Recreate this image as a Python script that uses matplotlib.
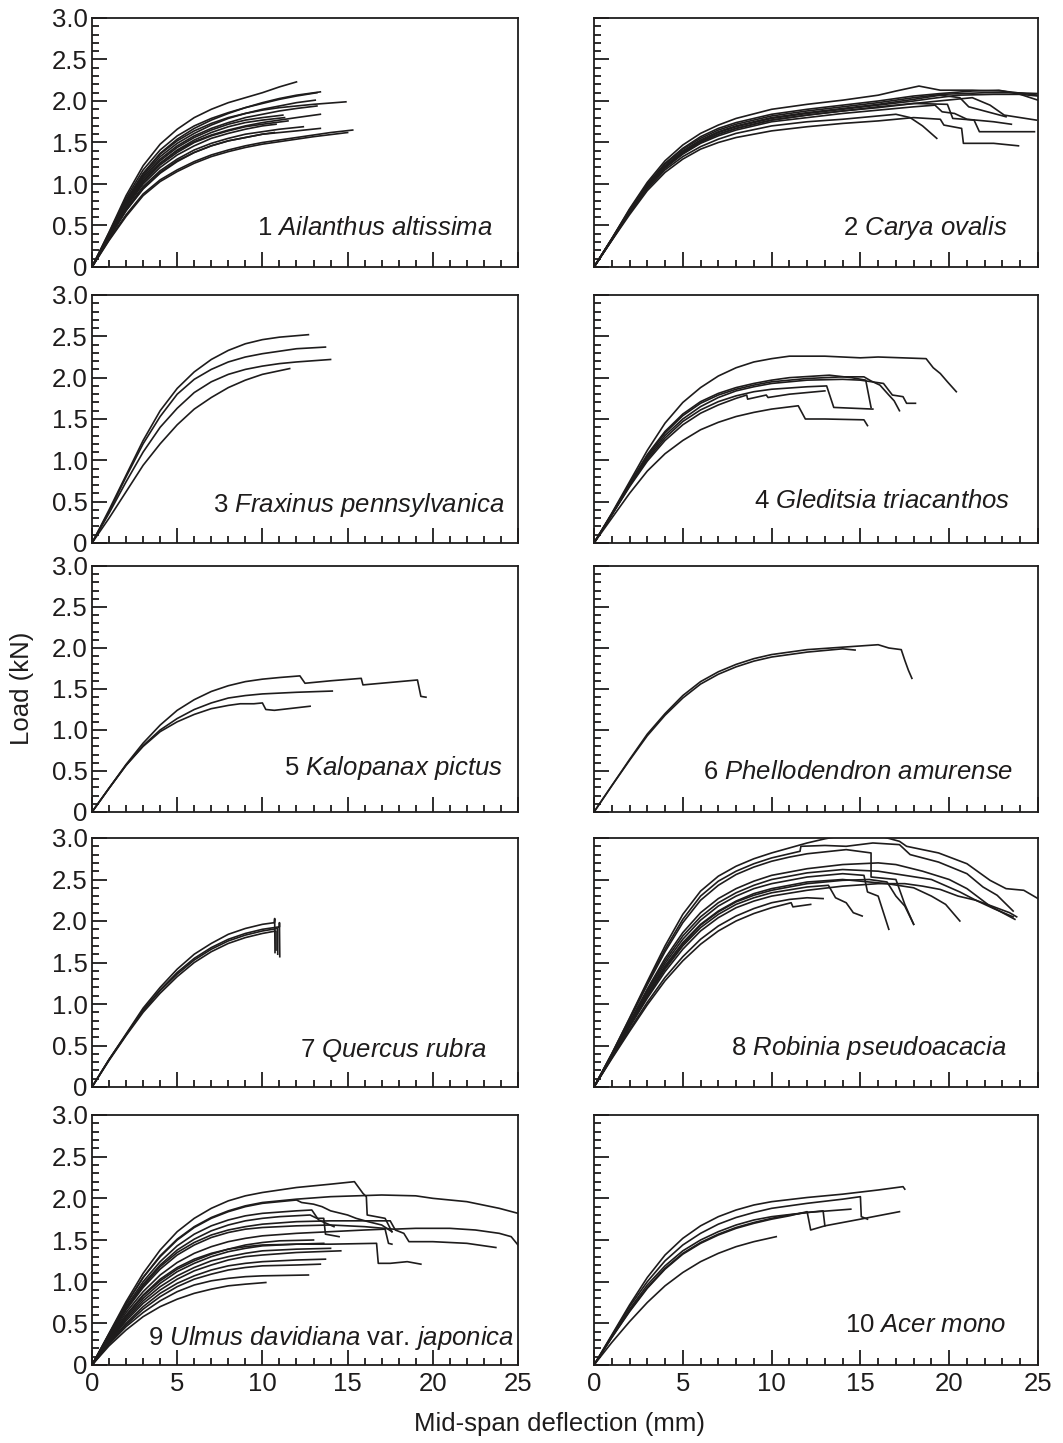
import matplotlib
matplotlib.use("Agg")
import matplotlib.pyplot as plt
from matplotlib.ticker import MultipleLocator, FuncFormatter

plt.rcParams['font.family'] = ['Liberation Sans', 'DejaVu Sans']
plt.rcParams['mathtext.fontset'] = 'custom'
plt.rcParams['mathtext.rm'] = 'Liberation Sans'
plt.rcParams['mathtext.it'] = 'Liberation Sans:italic'

INK = "#1e1c1c"

# load-deflection curves, (deflection mm, load kN)
ailanthus = [
    [(0,0),(1,0.42),(2,0.86),(3,1.22),(4,1.48),(5,1.66),(6,1.8),(7,1.9),(8,1.98),(9,2.04),(10,2.1),(11,2.17),(12,2.23)],
    [(0,0),(1,0.41),(2,0.83),(3,1.17),(4,1.41),(5,1.58),(6,1.7),(7,1.79),(8,1.86),(9,1.92),(10,1.97),(11,2.02),(12,2.06),(13.2,2.1)],
    [(0,0),(1,0.4),(2,0.8),(3,1.13),(4,1.37),(5,1.54),(6,1.67),(7,1.77),(8,1.85),(9,1.92),(10,1.98),(11,2.03),(12,2.07),(13.4,2.11)],
    [(0,0),(1,0.4),(2,0.8),(3,1.12),(4,1.36),(5,1.52),(6,1.64),(7,1.73),(8,1.8),(9,1.85),(10,1.89),(11,1.92),(12,1.94),(13,1.96),(14.9,1.99)],
    [(0,0),(1,0.39),(2,0.78),(3,1.1),(4,1.33),(5,1.49),(6,1.61),(7,1.71),(8,1.79),(9,1.85),(10,1.9),(11,1.94),(12,1.98),(13.1,2.01)],
    [(0,0),(1,0.39),(2,0.77),(3,1.08),(4,1.3),(5,1.46),(6,1.58),(7,1.67),(8,1.74),(9,1.8),(10,1.84),(11,1.88),(12,1.91),(13.2,1.94)],
    [(0,0),(1,0.38),(2,0.75),(3,1.04),(4,1.25),(5,1.4),(6,1.51),(7,1.59),(8,1.65),(9,1.7),(10,1.74),(11,1.77),(12,1.8),(13.4,1.84)],
    [(0,0),(1,0.38),(2,0.76),(3,1.06),(4,1.28),(5,1.44),(6,1.56),(7,1.65),(8,1.72),(9,1.77),(10,1.8),(11.2,1.83)],
    [(0,0),(1,0.37),(2,0.73),(3,1.02),(4,1.23),(5,1.38),(6,1.5),(7,1.58),(8,1.64),(9,1.69),(10,1.72),(11.5,1.76)],
    [(0,0),(1,0.37),(2,0.72),(3,1.0),(4,1.2),(5,1.35),(6,1.46),(7,1.55),(8,1.61),(9,1.66),(10,1.7),(10.8,1.72)],
    [(0,0),(1,0.36),(2,0.7),(3,0.97),(4,1.16),(5,1.3),(6,1.41),(7,1.49),(8,1.55),(9,1.6),(10,1.63),(11,1.66),(12.4,1.69)],
    [(0,0),(1,0.35),(2,0.68),(3,0.94),(4,1.13),(5,1.27),(6,1.38),(7,1.46),(8,1.52),(9,1.56),(10,1.6),(11,1.62),(12,1.64),(13.4,1.67)],
    [(0,0),(1,0.35),(2,0.68),(3,0.95),(4,1.14),(5,1.28),(6,1.38),(7,1.46),(8,1.52),(9,1.56),(10,1.6),(10.7,1.62)],
    [(0,0),(1,0.37),(2,0.74),(3,1.03),(4,1.25),(5,1.41),(6,1.53),(7,1.62),(8,1.69),(9,1.74),(10,1.77),(11.3,1.8)],
    [(0,0),(1,0.33),(2,0.63),(3,0.88),(4,1.05),(5,1.17),(6,1.27),(7,1.35),(8,1.41),(9,1.46),(10,1.5),(11,1.53),(12,1.56),(13,1.59),(14,1.62),(15.3,1.65)],
    [(0,0),(1,0.32),(2,0.61),(3,0.86),(4,1.03),(5,1.15),(6,1.25),(7,1.33),(8,1.39),(9,1.44),(10,1.48),(11,1.51),(12,1.54),(13,1.57),(15,1.62)],
]

carya = [
    [(0,0),(1,0.34),(2,0.7),(3,1.02),(4,1.28),(5,1.47),(6,1.61),(7,1.71),(8,1.79),(10,1.9),(12,1.96),(14,2.01),(16,2.07),(17,2.12),(18.3,2.18),(19.5,2.13),(21.3,2.13),(23,2.12),(25,2.07)],
    [(0,0),(1,0.34),(2,0.69),(3,1.0),(4,1.25),(5,1.43),(6,1.57),(7,1.67),(8,1.74),(10,1.84),(12,1.9),(14,1.95),(16,2.0),(18,2.06),(19.5,2.09),(21.3,2.12),(22.8,2.13),(24,2.08),(25,2.01)],
    [(0,0),(1,0.33),(2,0.67),(3,0.98),(4,1.22),(5,1.4),(6,1.53),(7,1.63),(8,1.7),(10,1.8),(12,1.86),(14,1.91),(16,1.96),(18,2.02),(19.5,2.07),(20.6,2.04),(21.1,1.93),(22.5,1.85),(23.2,1.81)],
    [(0,0),(1,0.33),(2,0.67),(3,0.97),(4,1.21),(5,1.38),(6,1.51),(7,1.6),(8,1.67),(10,1.77),(12,1.83),(14,1.88),(16,1.93),(18,1.97),(19.9,1.96),(20.2,1.79),(21.4,1.77),(21.7,1.63),(24.8,1.63)],
    [(0,0),(1,0.33),(2,0.66),(3,0.96),(4,1.19),(5,1.36),(6,1.49),(7,1.58),(8,1.65),(10,1.75),(12,1.8),(14,1.85),(16,1.89),(18,1.93),(19.2,1.95),(19.6,1.87),(20.3,1.85),(21,1.78),(22.5,1.75),(23.5,1.72)],
    [(0,0),(1,0.32),(2,0.65),(3,0.94),(4,1.17),(5,1.33),(6,1.45),(7,1.54),(8,1.61),(10,1.7),(12,1.75),(14,1.78),(16,1.82),(17,1.84),(17.8,1.8),(18.5,1.7),(19.3,1.55)],
    [(0,0),(1,0.32),(2,0.63),(3,0.92),(4,1.14),(5,1.3),(6,1.42),(7,1.5),(8,1.56),(10,1.64),(12,1.69),(14,1.73),(16,1.76),(18,1.8),(19.5,1.78),(19.7,1.71),(20.7,1.67),(20.8,1.49),(22.5,1.49),(23.9,1.46)],
    [(0,0),(1,0.33),(2,0.66),(3,0.97),(4,1.2),(5,1.37),(6,1.5),(7,1.6),(8,1.67),(10,1.77),(12,1.83),(14,1.88),(16,1.92),(18,1.97),(19.4,2.0),(21.3,2.04),(22.3,1.95),(23.1,1.83),(24.9,1.77)],
    [(0,0),(1,0.34),(2,0.68),(3,0.99),(4,1.24),(5,1.42),(6,1.55),(7,1.65),(8,1.72),(10,1.82),(12,1.88),(14,1.93),(16,1.98),(18,2.04),(19.6,2.08),(22,2.1),(23.6,2.1),(25,2.09)],
    [(0,0),(1,0.33),(2,0.66),(3,0.97),(4,1.21),(5,1.39),(6,1.52),(7,1.62),(8,1.69),(10,1.79),(12,1.85),(14,1.9),(16,1.95),(18,2.0),(19,2.03),(20.5,2.07),(22.5,2.08),(24,2.08),(25,2.06)],
]

fraxinus = [
    [(0,0),(1,0.4),(2,0.82),(3,1.24),(4,1.6),(5,1.87),(6,2.07),(7,2.22),(8,2.33),(9,2.41),(10,2.46),(11,2.49),(12.7,2.52)],
    [(0,0),(1,0.38),(2,0.8),(3,1.2),(4,1.53),(5,1.8),(6,1.98),(7,2.1),(8,2.19),(9,2.25),(10,2.29),(11,2.32),(12,2.35),(13.7,2.37)],
    [(0,0),(1,0.36),(2,0.74),(3,1.1),(4,1.4),(5,1.63),(6,1.82),(7,1.95),(8,2.04),(9,2.1),(10,2.14),(11,2.17),(12,2.19),(14,2.22)],
    [(0,0),(1,0.3),(2,0.62),(3,0.94),(4,1.2),(5,1.43),(6,1.62),(7,1.76),(8,1.88),(9,1.97),(10,2.04),(11.6,2.11)],
]

gleditsia = [
    [(0,0),(1,0.36),(2,0.74),(3,1.12),(4,1.45),(5,1.7),(6,1.88),(7,2.02),(8,2.12),(9,2.19),(10,2.23),(11,2.26),(13,2.26),(15,2.24),(16,2.25),(18.7,2.23),(19.1,2.12),(19.5,2.05),(19.9,1.95),(20.4,1.83)],
    [(0,0),(1,0.35),(2,0.72),(3,1.07),(4,1.35),(5,1.56),(6,1.71),(7,1.81),(8,1.88),(9,1.93),(10,1.97),(11,2.0),(13.25,2.03),(14.5,2.0),(15.3,1.97),(15.6,1.64)],
    [(0,0),(1,0.35),(2,0.71),(3,1.05),(4,1.33),(5,1.54),(6,1.69),(7,1.79),(8,1.86),(9,1.91),(10,1.95),(12,1.99),(14,2.01),(15.2,2.01),(15.6,1.96),(16.1,1.91),(16.6,1.79),(16.9,1.72),(17.2,1.6)],
    [(0,0),(1,0.34),(2,0.7),(3,1.03),(4,1.3),(5,1.5),(6,1.65),(7,1.76),(8,1.84),(9,1.89),(10,1.93),(12,1.97),(14,1.98),(15,1.97),(16.3,1.93),(16.8,1.79),(17.4,1.77),(17.6,1.69),(18.1,1.69)],
    [(0,0),(1,0.34),(2,0.69),(3,1.01),(4,1.27),(5,1.47),(6,1.61),(7,1.71),(8,1.78),(9,1.83),(10,1.86),(12,1.89),(13.1,1.9),(13.5,1.64),(15.7,1.62)],
    [(0,0),(1,0.34),(2,0.68),(3,0.99),(4,1.24),(5,1.43),(6,1.57),(7,1.67),(8,1.75),(8.6,1.79),(8.65,1.74),(9.7,1.79),(9.8,1.76),(11,1.8),(12,1.82),(13,1.84)],
    [(0,0),(1,0.3),(2,0.6),(3,0.87),(4,1.08),(5,1.24),(6,1.37),(7,1.46),(8,1.53),(9,1.58),(10,1.62),(11.5,1.66),(11.9,1.5),(13,1.5),(15.2,1.49),(15.4,1.42)],
]

kalopanax = [
    [(0,0),(1,0.29),(2,0.58),(3,0.84),(4,1.06),(5,1.24),(6,1.37),(7,1.47),(8,1.54),(9,1.59),(10,1.62),(11,1.64),(12.2,1.66),(12.5,1.57),(14,1.6),(15.8,1.63),(15.9,1.55),(17.5,1.58),(19.1,1.61),(19.3,1.41),(19.6,1.4)],
    [(0,0),(1,0.29),(2,0.57),(3,0.81),(4,1.0),(5,1.14),(6,1.25),(7,1.33),(8,1.39),(9,1.42),(10,1.44),(12,1.46),(14.1,1.475)],
    [(0,0),(1,0.29),(2,0.57),(3,0.8),(4,0.98),(5,1.1),(6,1.19),(7,1.26),(8,1.3),(8.7,1.32),(9.5,1.32),(10,1.33),(10.2,1.25),(10.7,1.24),(12.8,1.29)],
]

phellodendron = [
    [(0,0),(1,0.32),(2,0.64),(3,0.95),(4,1.2),(5,1.42),(6,1.59),(7,1.71),(8,1.8),(9,1.87),(10,1.92),(12,1.98),(14,2.01),(16,2.04),(16.6,2.0),(17.3,1.98),(17.5,1.85),(17.7,1.73),(17.9,1.63)],
    [(0,0),(1,0.32),(2,0.63),(3,0.93),(4,1.18),(5,1.39),(6,1.56),(7,1.68),(8,1.77),(9,1.84),(10,1.89),(12,1.95),(14,1.99),(14.7,1.975)],
]

quercus = [
    [(0,0),(1,0.33),(2,0.64),(3,0.95),(4,1.2),(5,1.42),(6,1.6),(7,1.73),(8,1.84),(9,1.91),(10,1.96),(10.7,1.98),(10.72,2.03),(10.74,1.62)],
    [(0,0),(1,0.33),(2,0.63),(3,0.93),(4,1.17),(5,1.38),(6,1.55),(7,1.68),(8,1.78),(9,1.85),(10,1.9),(11.0,1.93),(11.0,1.98),(11.02,1.57)],
    [(0,0),(1,0.33),(2,0.63),(3,0.92),(4,1.16),(5,1.36),(6,1.53),(7,1.66),(8,1.76),(9,1.83),(10,1.88),(10.9,1.91),(10.9,1.6)],
    [(0,0),(1,0.32),(2,0.62),(3,0.9),(4,1.13),(5,1.33),(6,1.5),(7,1.63),(8,1.73),(9,1.8),(10,1.85),(10.8,1.88),(10.8,1.65)],
]

robinia = [
    [(0,0),(1,0.4),(2,0.83),(3,1.27),(4,1.7),(5,2.08),(6,2.36),(7,2.54),(8,2.66),(9,2.75),(10,2.82),(11,2.88),(12,2.94),(13,2.99),(14,3.03),(16,3.03),(17.2,2.96),(17.6,2.9),(19.4,2.82),(21,2.69),(22.3,2.49),(23.2,2.39),(24.2,2.37),(25,2.27)],
    [(0,0),(1,0.4),(2,0.82),(3,1.25),(4,1.66),(5,2.02),(6,2.3),(7,2.48),(8,2.6),(9,2.69),(10,2.76),(11.6,2.84),(11.65,2.9),(13,2.91),(14.2,2.9),(15.7,2.94),(17.2,2.92),(17.8,2.8),(19.4,2.71),(21,2.57),(21.9,2.41),(22.7,2.31),(23.6,2.12)],
    [(0,0),(1,0.39),(2,0.81),(3,1.23),(4,1.63),(5,1.98),(6,2.25),(7,2.43),(8,2.56),(9,2.65),(10,2.72),(11,2.77),(12,2.81),(14.2,2.86),(15.6,2.82),(15.6,2.53),(17,2.5),(17.5,2.2),(18,1.96)],
    [(0,0),(1,0.38),(2,0.78),(3,1.18),(4,1.55),(5,1.86),(6,2.1),(7,2.27),(8,2.39),(9,2.48),(10,2.55),(12,2.63),(14,2.68),(16,2.7),(17,2.68),(18.5,2.6),(20,2.5),(21,2.39),(22.3,2.18),(23.7,2.02)],
    [(0,0),(1,0.38),(2,0.77),(3,1.16),(4,1.52),(5,1.82),(6,2.05),(7,2.22),(8,2.34),(9,2.43),(10,2.5),(12,2.58),(14,2.62),(16,2.6),(17.5,2.55),(19,2.5),(20.6,2.35),(21.5,2.25),(22.5,2.15),(23.6,2.05)],
    [(0,0),(1,0.37),(2,0.76),(3,1.14),(4,1.49),(5,1.78),(6,2.01),(7,2.18),(8,2.3),(9,2.39),(10,2.45),(12,2.53),(14,2.57),(15.2,2.55),(15.4,2.35),(16.0,2.3),(16.3,2.1),(16.6,1.9)],
    [(0,0),(1,0.37),(2,0.75),(3,1.12),(4,1.46),(5,1.74),(6,1.96),(7,2.12),(8,2.24),(9,2.33),(10,2.39),(12,2.47),(14,2.5),(15,2.48),(16.5,2.45),(18,2.4),(19,2.3),(19.8,2.2),(20.6,2.0)],
    [(0,0),(1,0.36),(2,0.73),(3,1.09),(4,1.42),(5,1.7),(6,1.92),(7,2.08),(8,2.2),(9,2.28),(10,2.34),(12,2.41),(13.2,2.43),(13.6,2.28),(14.2,2.22),(14.6,2.1),(15.1,2.06)],
    [(0,0),(1,0.36),(2,0.72),(3,1.07),(4,1.39),(5,1.66),(6,1.88),(7,2.04),(8,2.16),(9,2.24),(10,2.3),(12,2.37),(14,2.42),(16,2.45),(17.5,2.45),(18.5,2.42),(19.5,2.38),(20.5,2.3),(21.5,2.25),(22.4,2.18),(23.4,2.1),(23.8,2.05)],
    [(0,0),(1,0.36),(2,0.74),(3,1.1),(4,1.44),(5,1.72),(6,1.95),(7,2.11),(8,2.23),(9,2.31),(10,2.37),(12,2.45),(14,2.49),(15.5,2.5),(16.5,2.47),(17,2.3),(17.5,2.18),(18,1.96)],
    [(0,0),(1,0.35),(2,0.69),(3,1.02),(4,1.32),(5,1.57),(6,1.78),(7,1.94),(8,2.06),(9,2.15),(10,2.22),(11,2.26),(12,2.28),(12.9,2.27)],
    [(0,0),(1,0.34),(2,0.67),(3,0.99),(4,1.28),(5,1.52),(6,1.72),(7,1.88),(8,2.0),(9,2.09),(10,2.16),(11.1,2.22),(11.2,2.17),(12.2,2.2)],
]

ulmus = [
    [(0,0),(1,0.38),(2,0.76),(3,1.1),(4,1.38),(5,1.6),(6,1.76),(7,1.88),(8,1.97),(9,2.03),(10,2.07),(12,2.13),(14,2.17),(15.4,2.2),(15.9,2.06),(16.1,2.02),(16.15,1.8),(17.2,1.76),(17.4,1.68),(17.6,1.6)],
    [(0,0),(1,0.37),(2,0.73),(3,1.05),(4,1.31),(5,1.51),(6,1.66),(7,1.77),(8,1.85),(9,1.91),(10,1.95),(12,1.99),(14,2.02),(17,2.04),(19,2.03),(20,2.0),(22,1.96),(23.9,1.88),(25,1.82)],
    [(0,0),(1,0.37),(2,0.73),(3,1.05),(4,1.3),(5,1.5),(6,1.65),(7,1.76),(8,1.84),(9,1.9),(10,1.94),(11,1.96),(12,1.98),(12.3,1.95),(13,1.93),(13.5,1.9),(14,1.85),(15,1.8),(15.5,1.76),(16.2,1.72),(17,1.68),(17.6,1.6)],
    [(0,0),(1,0.35),(2,0.68),(3,0.97),(4,1.2),(5,1.38),(6,1.51),(7,1.61),(8,1.68),(9,1.73),(10,1.76),(11,1.78),(12.8,1.8),(13.2,1.76),(13.6,1.76),(13.7,1.57),(14.5,1.54)],
    [(0,0),(1,0.35),(2,0.67),(3,0.95),(4,1.18),(5,1.35),(6,1.47),(7,1.56),(8,1.62),(9,1.66),(10,1.69),(12,1.72),(14,1.73),(16,1.73),(17.5,1.73),(17.8,1.62),(18.3,1.58),(18.6,1.48),(20,1.48),(22,1.46),(23.7,1.41)],
    [(0,0),(1,0.34),(2,0.66),(3,0.93),(4,1.15),(5,1.32),(6,1.44),(7,1.53),(8,1.59),(9,1.63),(10,1.65),(12,1.67),(14,1.68),(16,1.66),(17.7,1.63),(19,1.64),(21,1.64),(22.5,1.62),(23.9,1.58),(24.6,1.54),(25,1.44)],
    [(0,0),(1,0.36),(2,0.7),(3,1.0),(4,1.24),(5,1.43),(6,1.57),(7,1.67),(8,1.74),(9,1.79),(10,1.82),(12,1.85),(12.9,1.86),(13.3,1.74),(14.2,1.66)],
    [(0,0),(1,0.33),(2,0.63),(3,0.88),(4,1.08),(5,1.23),(6,1.34),(7,1.42),(8,1.48),(9,1.52),(10,1.55),(12,1.58),(14,1.6),(16,1.62),(17.2,1.63),(17.4,1.46),(17.6,1.45)],
    [(0,0),(1,0.32),(2,0.6),(3,0.84),(4,1.03),(5,1.17),(6,1.27),(7,1.34),(8,1.39),(9,1.42),(10,1.44),(12,1.45),(14,1.45),(16.7,1.46),(16.8,1.22),(17.5,1.22),(18.5,1.24),(19.3,1.21)],
    [(0,0),(1,0.31),(2,0.59),(3,0.83),(4,1.01),(5,1.15),(6,1.25),(7,1.33),(8,1.39),(9,1.44),(10,1.47),(11,1.49),(13,1.5)],
    [(0,0),(1,0.3),(2,0.57),(3,0.8),(4,0.98),(5,1.12),(6,1.22),(7,1.3),(8,1.36),(9,1.4),(10,1.43),(12,1.45),(13.6,1.46)],
    [(0,0),(1,0.29),(2,0.55),(3,0.77),(4,0.94),(5,1.07),(6,1.17),(7,1.25),(8,1.3),(9,1.34),(10,1.37),(12,1.39),(14,1.4)],
    [(0,0),(1,0.28),(2,0.53),(3,0.74),(4,0.9),(5,1.03),(6,1.13),(7,1.2),(8,1.26),(9,1.3),(10,1.32),(12,1.35),(14.6,1.37)],
    [(0,0),(1,0.27),(2,0.5),(3,0.7),(4,0.86),(5,0.98),(6,1.07),(7,1.14),(8,1.19),(9,1.22),(10,1.24),(12,1.26),(13.7,1.27)],
    [(0,0),(1,0.26),(2,0.48),(3,0.67),(4,0.82),(5,0.94),(6,1.03),(7,1.09),(8,1.14),(9,1.17),(10,1.19),(12,1.2),(13.4,1.21)],
    [(0,0),(1,0.25),(2,0.46),(3,0.63),(4,0.77),(5,0.88),(6,0.96),(7,1.01),(8,1.04),(9,1.06),(10,1.07),(12.7,1.08)],
    [(0,0),(1,0.23),(2,0.42),(3,0.58),(4,0.7),(5,0.79),(6,0.86),(7,0.91),(8,0.95),(9,0.97),(10.2,0.99)],
]

acer = [
    [(0,0),(1,0.36),(2,0.72),(3,1.05),(4,1.32),(5,1.52),(6,1.67),(7,1.78),(8,1.86),(9,1.92),(10,1.96),(12,2.01),(14,2.05),(16,2.1),(17.4,2.14),(17.5,2.11)],
    [(0,0),(1,0.35),(2,0.7),(3,1.0),(4,1.25),(5,1.44),(6,1.58),(7,1.69),(8,1.77),(9,1.83),(10,1.88),(12,1.94),(14,1.99),(15.0,2.02),(15.05,1.78),(15.4,1.75)],
    [(0,0),(1,0.34),(2,0.67),(3,0.96),(4,1.19),(5,1.37),(6,1.5),(7,1.6),(8,1.68),(9,1.74),(10,1.78),(12,1.83),(14.46,1.87)],
    [(0,0),(1,0.33),(2,0.65),(3,0.93),(4,1.16),(5,1.34),(6,1.47),(7,1.57),(8,1.65),(9,1.71),(10,1.76),(11,1.8),(12,1.83),(12.9,1.85),(13.0,1.67)],
    [(0,0),(1,0.33),(2,0.64),(3,0.92),(4,1.15),(5,1.33),(6,1.46),(7,1.56),(8,1.64),(9,1.7),(10,1.75),(11,1.79),(12,1.84),(12.2,1.62),(13.0,1.67),(15,1.75),(17.2,1.84)],
    [(0,0),(1,0.27),(2,0.52),(3,0.75),(4,0.95),(5,1.11),(6,1.24),(7,1.34),(8,1.42),(9,1.48),(10.26,1.54)],
]

species = [
    r"1 $\mathit{Ailanthus\ altissima}$",
    r"2 $\mathit{Carya\ ovalis}$",
    r"3 $\mathit{Fraxinus\ pennsylvanica}$",
    r"4 $\mathit{Gleditsia\ triacanthos}$",
    r"5 $\mathit{Kalopanax\ pictus}$",
    r"6 $\mathit{Phellodendron\ amurense}$",
    r"7 $\mathit{Quercus\ rubra}$",
    r"8 $\mathit{Robinia\ pseudoacacia}$",
    r"9 $\mathit{Ulmus\ davidiana}$ var. $\mathit{japonica}$",
    r"10 $\mathit{Acer\ mono}$",
]
panels = [ailanthus, carya, fraxinus, gleditsia, kalopanax,
          phellodendron, quercus, robinia, ulmus, acer]

# layout in pixels
W, H = 1063, 1443
col_x = [(92, 518), (594, 1038)]
row_y = [(18, 267), (295, 543), (566, 812), (838, 1087), (1115, 1365)]
label_xy = [(0.941, 0.129), (0.932, 0.129), (0.969, 0.125), (0.937, 0.14),
            (0.965, 0.15), (0.944, 0.135), (0.927, 0.12), (0.93, 0.129),
            (0.99, 0.08), (0.93, 0.133)]

FS = 18.5

fig = plt.figure(figsize=(W / 100, H / 100), dpi=100)

for i, curves in enumerate(panels):
    r, c = divmod(i, 2)
    x0, x1 = col_x[c]
    y0, y1 = row_y[r]
    ax = fig.add_axes([x0 / W, 1 - y1 / H, (x1 - x0) / W, (y1 - y0) / H])
    for crv in curves:
        xs = [p[0] for p in crv]
        ys = [p[1] for p in crv]
        ax.plot(xs, ys, color=INK, lw=1.2, solid_joinstyle='round')
    ax.set_xlim(0, 25)
    ax.set_ylim(0, 3)
    ax.xaxis.set_major_locator(MultipleLocator(5))
    ax.xaxis.set_minor_locator(MultipleLocator(1))
    ax.yaxis.set_major_locator(MultipleLocator(0.5))
    ax.yaxis.set_minor_locator(MultipleLocator(0.1))
    ax.yaxis.set_major_formatter(FuncFormatter(lambda v, p: "0" if v == 0 else f"{v:.1f}"))
    ax.tick_params(which='both', direction='in', top=False, right=False,
                   color=INK, width=1.3, labelcolor=INK, labelsize=FS)
    ax.tick_params(which='major', length=10.5)
    ax.tick_params(which='minor', length=5)
    ax.tick_params(axis='y', pad=3)
    ax.tick_params(axis='x', pad=5)
    ax.tick_params(labelleft=(c == 0), labelbottom=(r == 4))
    for s in ax.spines.values():
        s.set_linewidth(1.3)
        s.set_color(INK)
    lx, ly = label_xy[i]
    ax.text(lx, ly, species[i], transform=ax.transAxes, ha='right',
            va='baseline', fontsize=FS, color=INK)

fig.text(22 / W, 1 - 688 / H, "Load (kN)", rotation=90, ha='center',
         va='center', fontsize=FS, color=INK)
fig.text(560 / W, 1 - 1424 / H, "Mid-span deflection (mm)", ha='center',
         va='center', fontsize=FS, color=INK)

fig.savefig("out.png", dpi=100)
